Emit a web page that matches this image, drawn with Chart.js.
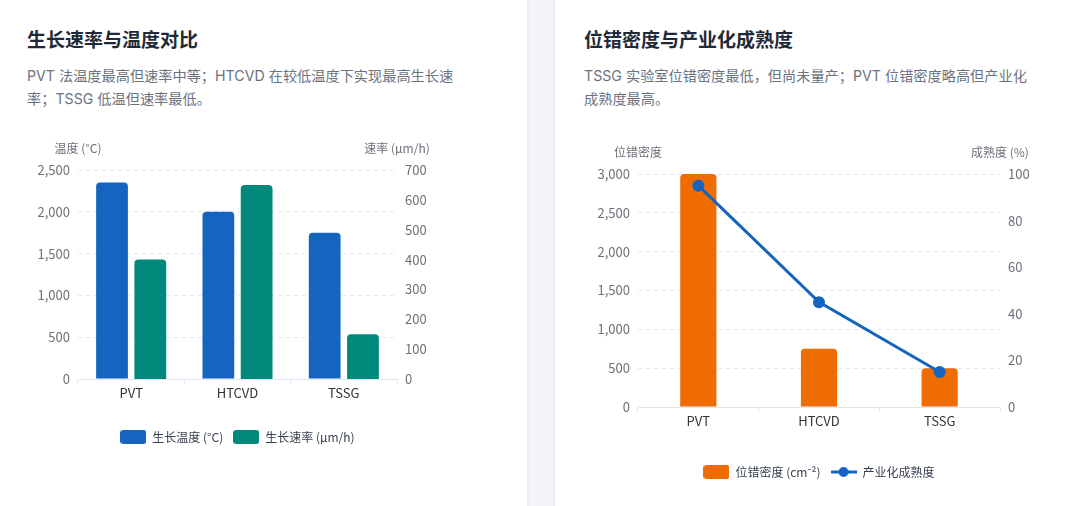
<!DOCTYPE html>
<html>
  <head>
    <meta charset="utf-8">
    <style>
      html, body {
        margin: 0;
        background: #f3f4f7;
        width: 1080px;
        height: 506px;
        overflow: hidden;
        font-family: "Inter", "Noto Sans CJK SC", sans-serif;
      }
      .card {
        position: absolute;
        top: -10px;
        height: 540px;
        background: #fff;
        border-radius: 10px;
        box-shadow: 0 1px 4px rgba(15, 23, 42, 0.08);
      }
      .title {
        position: absolute;
        font-size: 19px;
        line-height: 28px;
        font-weight: 700;
        color: #1f2937;
      }
      .desc {
        position: absolute;
        font-size: 14.2px;
        line-height: 23px;
        color: #6b7280;
      }
      canvas { position: absolute; }
    </style>
  </head>
  <body>
    <div class="card" style="left: -20px; width: 547px"></div>
    <div class="card" style="left: 555px; width: 545px"></div>

    <div class="title" style="left: 27px; top: 27px">生长速率与温度对比</div>
    <div class="desc" style="left: 27px; top: 64px">PVT 法温度最高但速率中等；HTCVD 在较低温度下实现最高生长速<br>率；TSSG 低温但速率最低。</div>

    <div class="title" style="left: 584px; top: 27px">位错密度与产业化成熟度</div>
    <div class="desc" style="left: 584px; top: 64px">TSSG 实验室位错密度最低，但尚未量产；PVT 位错密度略高但产业化<br>成熟度最高。</div>

    <div style="position:absolute; left:30px; top:130px; width:415px; height:325px"><canvas id="growth"></canvas></div>
    <div style="position:absolute; left:590px; top:135px; width:458px; height:355px"><canvas id="defect"></canvas></div>

    <script src="https://cdn.jsdelivr.net/npm/chart.js"></script>
    <script>
      // data
      const methods = ["PVT", "HTCVD", "TSSG"];
      const growthTemp = [2350, 2000, 1750];      // °C
      const growthRate = [400, 650, 150];         // μm/h
      const dislocation = [3000, 750, 500];       // cm^-2
      const maturity = [95, 45, 15];              // %

      const BLUE = "#1565c0";
      const GREEN = "#00897b";
      const ORANGE = "#ef6c00";
      const FONT = "'Noto Sans CJK SC', 'Noto Sans', sans-serif";

      Chart.defaults.font.family = FONT;
      Chart.defaults.animation = false;

      function boxIcon(color) {
        const c = document.createElement("canvas");
        c.width = 26; c.height = 14;
        const ctx = c.getContext("2d");
        ctx.fillStyle = color;
        ctx.beginPath();
        ctx.roundRect(0, 0, 26, 14, 3);
        ctx.fill();
        return c;
      }

      function lineIcon(color) {
        const c = document.createElement("canvas");
        c.width = 26; c.height = 14;
        const ctx = c.getContext("2d");
        ctx.strokeStyle = color;
        ctx.fillStyle = color;
        ctx.lineWidth = 3;
        ctx.beginPath();
        ctx.moveTo(0, 7); ctx.lineTo(26, 7);
        ctx.stroke();
        ctx.beginPath();
        ctx.arc(13, 7, 5, 0, Math.PI * 2);
        ctx.fill();
        return c;
      }

      // axis names drawn above each y axis, centred on the axis line
      const axisNames = {
        id: "axisNames",
        afterDraw(chart, args, opts) {
          const ctx = chart.ctx;
          const area = chart.chartArea;
          ctx.save();
          ctx.font = "12px " + FONT;
          ctx.fillStyle = "#6e7079";
          ctx.textAlign = "center";
          ctx.textBaseline = "middle";
          ctx.fillText(opts.left, area.left, area.top - 22);
          ctx.fillText(opts.right, area.right, area.top - 22);
          ctx.restore();
        }
      };

      function legendOpts(icons) {
        return {
          position: "bottom",
          labels: {
            usePointStyle: true,
            pointStyleWidth: 26,
            boxHeight: 12,
            padding: 10,
            color: "#374151",
            font: { size: 12 },
            generateLabels(chart) {
              return chart.data.datasets.map((ds, i) => ({
                text: ds.label,
                pointStyle: icons[i],
                fillStyle: ds.backgroundColor,
                strokeStyle: ds.backgroundColor,
                lineWidth: 0,
                hidden: false,
                datasetIndex: i,
                fontColor: "#374151"
              }));
            }
          }
        };
      }

      function xScale(h) {
        return {
          offset: true,
          afterFit(scale) { scale.height = h; },
          grid: {
            offset: true,
            drawOnChartArea: false,
            drawTicks: true,
            tickLength: 5,
            color: "#e0e6f1"
          },
          border: { color: "#e0e6f1" },
          ticks: { color: "#333", font: { size: 13 }, padding: 1 }
        };
      }

      function yScale(pos, max, step, withGrid) {
        return {
          position: pos,
          min: 0,
          max: max,
          afterFit(scale) { scale.width = 48; },
          ticks: {
            stepSize: step,
            color: "#6e7079",
            font: { size: 13 },
            padding: 8
          },
          border: { display: false, dash: [4, 4] },
          grid: {
            display: withGrid,
            drawTicks: false,
            color: "#e6e9f0"
          }
        };
      }

      new Chart(document.getElementById("growth"), {
        type: "bar",
        data: {
          labels: methods,
          datasets: [
            {
              label: "生长温度 (°C)",
              data: growthTemp,
              backgroundColor: BLUE,
              borderRadius: 4,
              yAxisID: "y",
              categoryPercentage: 0.72,
              barPercentage: 0.83
            },
            {
              label: "生长速率 (μm/h)",
              data: growthRate,
              backgroundColor: GREEN,
              borderRadius: 4,
              yAxisID: "y1",
              categoryPercentage: 0.72,
              barPercentage: 0.83
            }
          ]
        },
        options: {
          responsive: true,
          maintainAspectRatio: false,
          layout: { padding: { top: 40, bottom: 2 } },
          plugins: {
            legend: legendOpts([boxIcon(BLUE), boxIcon(GREEN)]),
            tooltip: { enabled: false },
            axisNames: { left: "温度 (°C)", right: "速率 (μm/h)" }
          },
          scales: {
            x: xScale(42),
            y: yScale("left", 2500, 500, true),
            y1: yScale("right", 700, 100, false)
          }
        },
        plugins: [axisNames]
      });

      new Chart(document.getElementById("defect"), {
        type: "bar",
        data: {
          labels: methods,
          datasets: [
            {
              type: "bar",
              label: "位错密度 (cm⁻²)",
              data: dislocation,
              backgroundColor: ORANGE,
              borderRadius: 4,
              yAxisID: "y",
              order: 1,
              categoryPercentage: 0.6,
              barPercentage: 0.5
            },
            {
              type: "line",
              label: "产业化成熟度",
              data: maturity,
              borderColor: BLUE,
              backgroundColor: BLUE,
              borderWidth: 3,
              pointRadius: 6,
              pointBackgroundColor: BLUE,
              pointBorderWidth: 0,
              tension: 0,
              yAxisID: "y1",
              order: 0
            }
          ]
        },
        options: {
          responsive: true,
          maintainAspectRatio: false,
          layout: { padding: { top: 39, bottom: 2 } },
          plugins: {
            legend: legendOpts([boxIcon(ORANGE), lineIcon(BLUE)]),
            tooltip: { enabled: false },
            axisNames: { left: "位错密度", right: "成熟度 (%)" }
          },
          scales: {
            x: xScale(49),
            y: yScale("left", 3000, 500, true),
            y1: yScale("right", 100, 20, false)
          }
        },
        plugins: [axisNames]
      });
    </script>
  </body>
</html>
